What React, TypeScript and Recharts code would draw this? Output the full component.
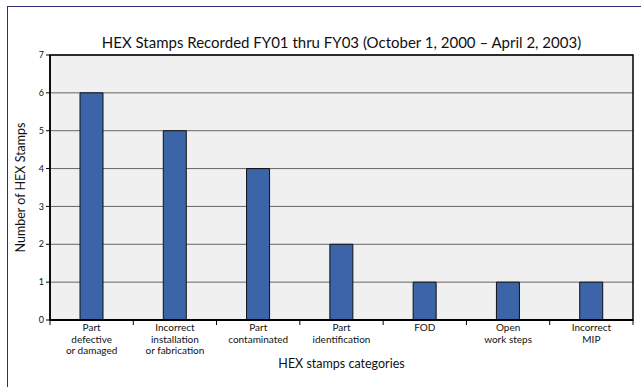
import { BarChart, Bar, XAxis, YAxis, CartesianGrid, ReferenceArea } from "recharts";

const categories = [
  "Part\ndefective\nor damaged",
  "Incorrect\ninstallation\nor fabrication",
  "Part\ncontaminated",
  "Part\nidentification",
  "FOD",
  "Open\nwork steps",
  "Incorrect\nMIP",
];
const stamps = [6, 5, 4, 2, 1, 1, 1];
const yTicks = [0, 1, 2, 3, 4, 5, 6, 7];

const data = categories.map((name, i) => ({ name, stamps: stamps[i] }));

const FONT = "Lato, 'Noto Sans', sans-serif";

function CategoryTick(props: any) {
  const { x, y, payload, index, visibleTicksCount, width } = props;
  const half = width / visibleTicksCount / 2;
  const lines = String(payload.value).split("\n");
  return (
    <g>
      <line x1={x - half} x2={x - half} y1={y - 8} y2={y - 3} stroke="#000" />
      {index === visibleTicksCount - 1 && (
        <line x1={x + half} x2={x + half} y1={y - 8} y2={y - 3} stroke="#000" />
      )}
      <text x={x} y={y + 3} textAnchor="middle" fontSize={10} fill="#111" fontFamily={FONT}>
        {lines.map((l, i) => (
          <tspan key={i} x={x} dy={i === 0 ? 0 : 11.5}>
            {l}
          </tspan>
        ))}
      </text>
    </g>
  );
}

function YTitle(props: any) {
  const { viewBox } = props;
  const cx = 22;
  const cy = viewBox.y + viewBox.height / 2;
  return (
    <text
      x={cx}
      y={cy}
      transform={`rotate(-90 ${cx} ${cy})`}
      textAnchor="middle"
      dominantBaseline="middle"
      fontSize={12.5}
      fill="#111"
      fontFamily={FONT}
    >
      Number of HEX Stamps
    </text>
  );
}

export default function App() {
  return (
    <div style={{ position: "absolute", left: 0, top: 0, width: 641, height: 387, background: "#fff" }}>
      <div
        style={{
          position: "absolute",
          left: 7,
          top: 6,
          right: 0,
          bottom: 0,
          borderLeft: "1.5px solid #2e2e78",
          borderTop: "1.5px solid #2e2e78",
        }}
      />
      <div
        style={{
          position: "absolute",
          left: 50,
          right: 8,
          top: 33,
          textAlign: "center",
          fontFamily: FONT,
          fontSize: 15,
          color: "#111",
        }}
      >
        HEX Stamps Recorded FY01 thru FY03 (October 1, 2000 – April 2, 2003)
      </div>
      <BarChart
        width={641}
        height={387}
        data={data}
        margin={{ top: 55, right: 8, left: 0, bottom: 0 }}
        style={{ position: "absolute", left: 0, top: 0 }}
      >
        <CartesianGrid vertical={false} stroke="#666" fill="#f0f0f0" fillOpacity={1} />
        <ReferenceArea y1={0} y2={7} fill="none" stroke="#000" strokeWidth={1.5} />
        <XAxis
          dataKey="name"
          interval={0}
          tickLine={false}
          axisLine={{ stroke: "#000", strokeWidth: 2 }}
          tick={<CategoryTick />}
          height={67}
          label={{ value: "HEX stamps categories", position: "insideBottom", offset: 19, fontSize: 12.5, fill: "#111", fontFamily: FONT }}
        />
        <YAxis
          domain={[0, 7]}
          ticks={yTicks}
          width={50}
          tickSize={4}
          tickLine={{ stroke: "#000" }}
          axisLine={{ stroke: "#000", strokeWidth: 1.5 }}
          tick={{ fontSize: 9, fill: "#111", fontFamily: FONT }}
          label={<YTitle />}
        />
        <Bar dataKey="stamps" barSize={23} fill="#3c64a8" stroke="#111" strokeWidth={1} isAnimationActive={false} />
      </BarChart>
    </div>
  );
}
